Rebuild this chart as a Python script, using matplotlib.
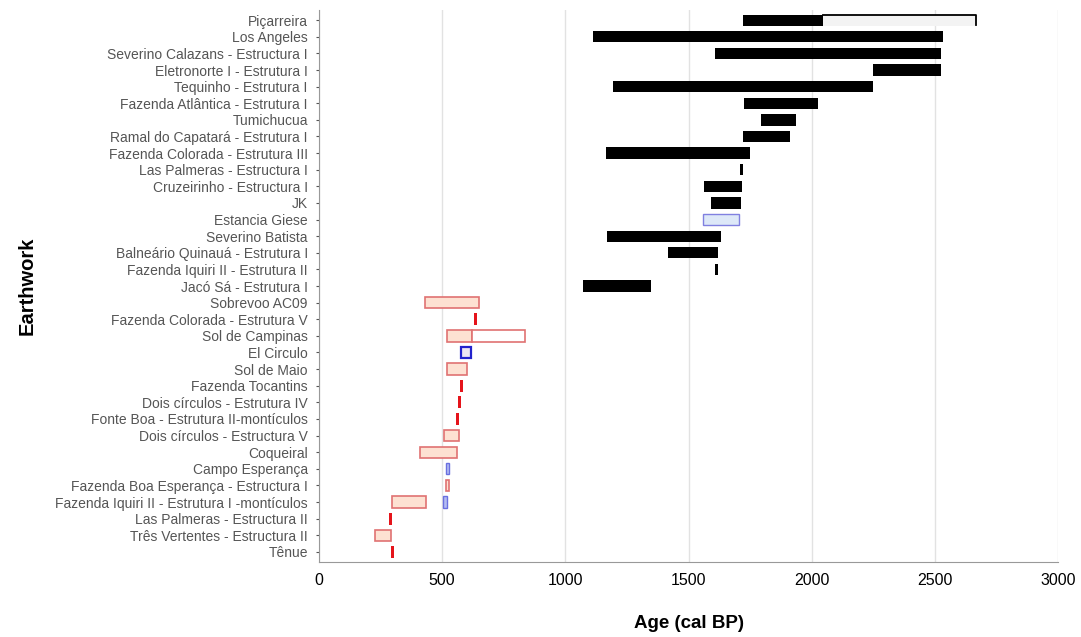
import matplotlib.pyplot as plt

sites = [
    "Piçarreira", "Los Angeles", "Severino Calazans - Estructura I",
    "Eletronorte I - Estrutura I", "Tequinho - Estrutura I",
    "Fazenda Atlântica - Estrutura I", "Tumichucua",
    "Ramal do Capatará - Estrutura I", "Fazenda Colorada - Estrutura III",
    "Las Palmeras - Estructura I", "Cruzeirinho - Estructura I", "JK",
    "Estancia Giese", "Severino Batista", "Balneário Quinauá - Estrutura I",
    "Fazenda Iquiri II - Estrutura II", "Jacó Sá - Estrutura I",
    "Sobrevoo AC09", "Fazenda Colorada - Estrutura V", "Sol de Campinas",
    "El Circulo", "Sol de Maio", "Fazenda Tocantins",
    "Dois círculos - Estrutura IV", "Fonte Boa - Estrutura II-montículos",
    "Dois círculos - Estructura V", "Coqueiral", "Campo Esperança",
    "Fazenda Boa Esperança - Estructura I",
    "Fazenda Iquiri II - Estrutura I -montículos",
    "Las Palmeras - Estructura II", "Três Vertentes - Estructura II", "Tênue",
]

# black ranges (cal BP)
black_sites = ["Piçarreira", "Los Angeles", "Severino Calazans - Estructura I",
               "Eletronorte I - Estrutura I", "Tequinho - Estrutura I",
               "Tequinho - Estrutura I", "Fazenda Atlântica - Estrutura I",
               "Tumichucua", "Ramal do Capatará - Estrutura I",
               "Fazenda Colorada - Estrutura III", "Las Palmeras - Estructura I",
               "Cruzeirinho - Estructura I", "JK", "Severino Batista",
               "Balneário Quinauá - Estrutura I",
               "Fazenda Iquiri II - Estrutura II", "Jacó Sá - Estrutura I"]
black_start = [1721, 1111, 1609, 2248, 1195, 1721, 1723, 1795, 1720, 1165,
               1709, 1562, 1589, 1169, 1416, 1606, 1070]
black_end = [2046, 2532, 2523, 2523, 1811, 2248, 2024, 1934, 1910, 1749,
             1722, 1717, 1711, 1633, 1620, 1618, 1347]

# Piçarreira open extension
ext_site = "Piçarreira"
ext_start = 2046
ext_end = 2667

# peach boxes
peach_sites = ["Sobrevoo AC09", "Sol de Campinas", "Sol de Maio",
               "Dois círculos - Estructura V", "Coqueiral",
               "Fazenda Boa Esperança - Estructura I",
               "Fazenda Iquiri II - Estrutura I -montículos",
               "Três Vertentes - Estructura II"]
peach_start = [432, 518, 518, 506, 412, 514, 296, 227]
peach_end = [650, 620, 600, 568, 559, 526, 436, 292]

# white box with red edge
white_sites = ["Sol de Campinas"]
white_start = [620]
white_end = [838]

# red single dates
red_sites = ["Fazenda Colorada - Estrutura V", "Fazenda Tocantins",
             "Dois círculos - Estrutura IV", "Fonte Boa - Estrutura II-montículos",
             "Las Palmeras - Estructura II", "Tênue"]
red_age = [637, 579, 572, 563, 292, 298]

# blue boxes
blue_sites = ["Estancia Giese", "El Circulo", "Campo Esperança",
              "Fazenda Iquiri II - Estrutura I -montículos"]
blue_start = [1558, 577, 516, 503]
blue_end = [1703, 617, 527, 518]

pos = {s: i for i, s in enumerate(sites)}

plt.rcParams['font.family'] = ['Liberation Sans', 'DejaVu Sans']
fig = plt.figure(figsize=(10.81, 6.37), dpi=100)
ax = fig.add_axes([0.295, 0.118, 0.684, 0.866])

h = 0.68

# extension first (behind)
y = pos[ext_site]
ax.barh(y, ext_end - ext_start, left=ext_start, height=h, color='#f3f3f3', zorder=1)
ax.plot([ext_start, ext_end, ext_end], [y - h / 2, y - h / 2, y + h / 2 - 0.05],
        color='black', lw=1.3, zorder=3)

for s, a, b in zip(black_sites, black_start, black_end):
    ax.barh(pos[s], b - a, left=a, height=h, color='black', zorder=2)

for s, a, b in zip(peach_sites, peach_start, peach_end):
    ax.barh(pos[s], b - a, left=a, height=h, color='#fde1d2',
            edgecolor='#e07272', lw=1.2, zorder=2)

for s, a, b in zip(white_sites, white_start, white_end):
    ax.barh(pos[s], b - a, left=a, height=h, color='white',
            edgecolor='#e07272', lw=1.2, zorder=2)

for s, a in zip(red_sites, red_age):
    ax.barh(pos[s], 12, left=a - 6, height=0.72, color='#e5141b', zorder=2)

blue_fill = ['#dde8f8', '#ece6f2', '#b4bcf2', '#b4bcf2']
blue_edge = ['#8080e0', '#2222cc', '#6a70e0', '#6a70e0']
blue_lw = [1.0, 1.6, 1.0, 1.0]
for s, a, b, fc, ec, lw in zip(blue_sites, blue_start, blue_end, blue_fill, blue_edge, blue_lw):
    ax.barh(pos[s], b - a, left=a, height=h, color=fc, edgecolor=ec, lw=lw, zorder=2)

ax.set_xlim(0, 3000)
ax.set_ylim(len(sites) - 0.4, -0.6)
ax.set_xticks([0, 500, 1000, 1500, 2000, 2500, 3000])
ax.set_yticks(range(len(sites)))
ax.set_yticklabels(sites)
ax.tick_params(axis='y', labelsize=10, colors='#555555', length=2, pad=6)
ax.tick_params(axis='x', labelsize=11.5, colors='black', length=0, pad=8)
for lab in ax.get_yticklabels():
    lab.set_color('#555555')

ax.grid(axis='x', color='#e2e2e2', lw=1, zorder=0)
ax.set_axisbelow(True)
for side in ['top', 'right']:
    ax.spines[side].set_visible(False)
ax.spines['left'].set_color('#999999')
ax.spines['bottom'].set_color('#999999')

ax.set_xlabel('Age (cal BP)', fontsize=13.5, fontweight='bold')
ax.xaxis.set_label_coords(0.5, -0.097)
ax.set_ylabel('Earthwork', fontsize=14.5, fontweight='bold')
ax.yaxis.set_label_coords(-0.382, 0.5)

fig.savefig('out.png', dpi=100)
